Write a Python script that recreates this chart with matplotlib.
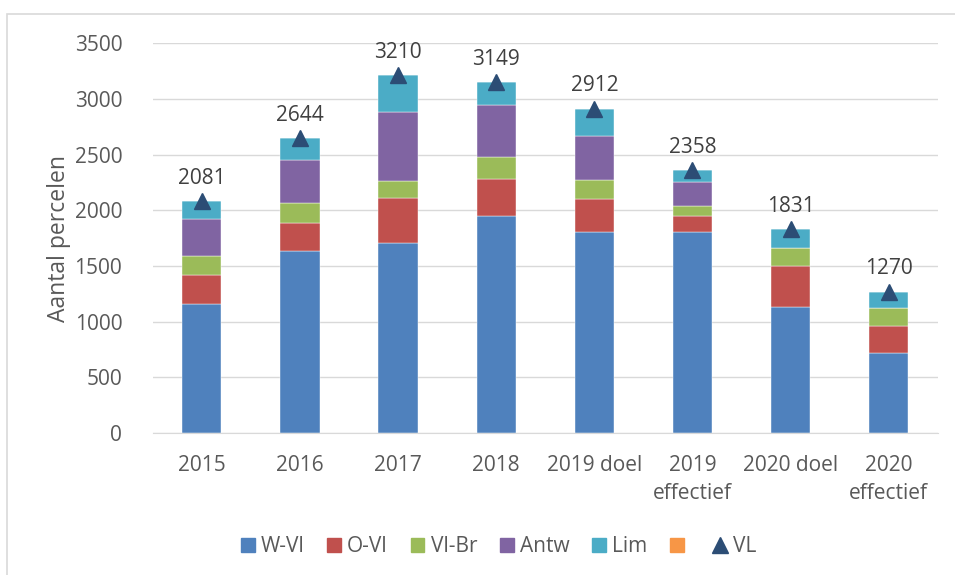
import matplotlib.pyplot as plt
import numpy as np
from matplotlib.lines import Line2D
from matplotlib.patches import Patch, Rectangle

plt.rcParams['font.family'] = ['Open Sans', 'DejaVu Sans']

categories = ['2015', '2016', '2017', '2018', '2019 doel', '2019\neffectief',
              '2020 doel', '2020\neffectief']
w_vl = [1160, 1636, 1708, 1944, 1800, 1800, 1128, 715]
o_vl = [261, 249, 401, 338, 303, 150, 368, 248]
vl_br = [167, 176, 152, 195, 167, 87, 161, 161]
antw = [330, 389, 620, 469, 398, 215, 0, 0]
lim = [163, 194, 329, 203, 244, 106, 174, 146]
other = [0, 0, 0, 0, 0, 0, 0, 0]
vl_total = [2081, 2644, 3210, 3149, 2912, 2358, 1831, 1270]

series = [w_vl, o_vl, vl_br, antw, lim, other]
names = ['W-Vl', 'O-Vl', 'Vl-Br', 'Antw', 'Lim', '']
colors = ['#4F81BD', '#C0504D', '#9BBB59', '#8064A2', '#4BACC6', '#F79646']
text_col = '#595959'

fig = plt.figure(figsize=(9.55, 5.75), dpi=100)
ax = fig.add_axes([0.160, 0.247, 0.822, 0.678])

x = np.arange(len(categories))
bottom = np.zeros(len(categories))
for vals, c in zip(series, colors):
    ax.bar(x, vals, 0.4, bottom=bottom, color=c, edgecolor='#FFFFFF',
           linewidth=0.3, zorder=2)
    bottom += np.array(vals)

ax.plot(x, vl_total, linestyle='none', marker='^', markersize=11,
        color='#2C4D75', zorder=3)
for xi, v in zip(x, vl_total):
    ax.annotate(str(v), (xi, v), xytext=(0, 9), textcoords='offset points',
                ha='center', va='bottom', fontsize=15, color='#404040')

ax.set_xlim(-0.5, len(categories) - 0.5)
ax.set_ylim(0, 3500)
ax.set_yticks(range(0, 3501, 500))
ax.set_xticks(x)
ax.set_xticklabels(categories, linespacing=1.45)
ax.tick_params(axis='both', length=0, labelsize=15, colors=text_col)
ax.tick_params(axis='y', pad=22)
ax.tick_params(axis='x', pad=16)
ax.grid(axis='y', color='#D9D9D9', linewidth=1, zorder=0)
ax.set_axisbelow(True)
for s in ['top', 'right', 'left']:
    ax.spines[s].set_visible(False)
ax.spines['bottom'].set_color('#D9D9D9')
ax.set_ylabel('Aantal percelen', fontsize=16.5, color=text_col)
ax.yaxis.set_label_coords(-0.104, 0.5)

handles = [Patch(color=c) for c in colors]
handles.append(Line2D([], [], linestyle='none', marker='^', markersize=12,
                      color='#2C4D75'))
labels = names + ['VL']
fig.legend(handles, labels, loc='center', bbox_to_anchor=(0.522, 0.049),
           ncol=7, frameon=False, fontsize=15, handlelength=0.65,
           handleheight=0.65, handletextpad=0.3, columnspacing=1.1,
           labelcolor=text_col)

# chart frame (only the top and left edges fall inside the picture)
fig.patches.append(Rectangle((0.0073, -0.05), 1.05, 0.0257 + 1.0,
                             transform=fig.transFigure, fill=False,
                             edgecolor='#D9D9D9', linewidth=1.2))

fig.savefig('out.png', dpi=100)
